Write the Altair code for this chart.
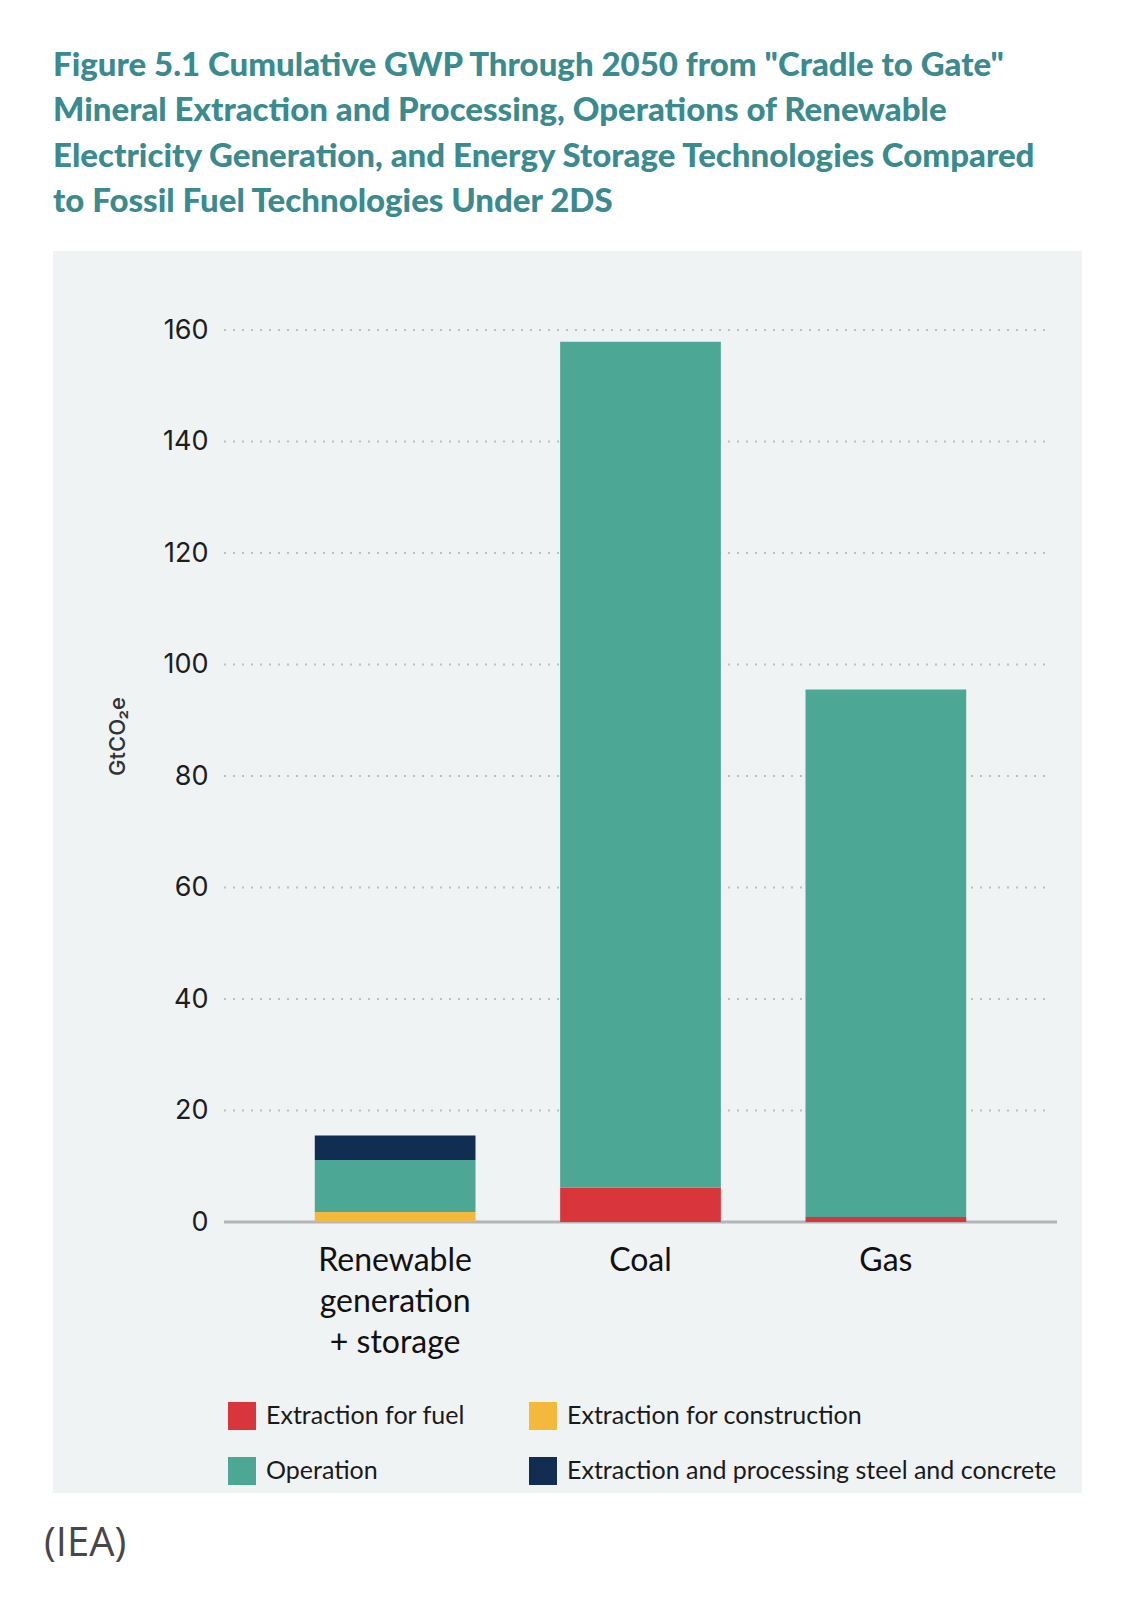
import altair as alt
import pandas as pd

# ---------------- data ----------------
categories = ["Renewable generation + storage", "Coal", "Gas"]
components = [
    "Extraction for fuel",
    "Extraction for construction",
    "Operation",
    "Extraction and processing steel and concrete",
]
colors = ["#d8363b", "#f2b93d", "#4da795", "#102d52"]
# legend fills column by column: this order gives the reference's 2x2 layout
legend_order = [0, 2, 1, 3]

fuel = [0.0, 6.2, 0.9]
construction = [1.8, 0.0, 0.0]
operation = [9.3, 151.7, 94.6]
steel = [4.4, 0.0, 0.0]

y_ticks = [0, 20, 40, 60, 80, 100, 120, 140, 160]
grid_values = [20, 40, 60, 80, 100, 120, 140, 160]

title_lines = [
    'Figure 5.1 Cumulative GWP Through 2050 from "Cradle to Gate"',
    "Mineral Extraction and Processing, Operations of Renewable",
    "Electricity Generation, and Energy Storage Technologies Compared",
    "to Fossil Fuel Technologies Under 2DS",
]
y_title = "GtCO\u2082e"
source_note = ["(IEA)"]

# ---------------- tables ----------------
rows = []
for k, (name, vals) in enumerate(zip(components, [fuel, construction, operation, steel])):
    for cat, v in zip(categories, vals):
        if v > 0:
            rows.append({"category": cat, "component": name, "value": v, "order": k})
df = pd.DataFrame(rows)
grid_df = pd.DataFrame({"value": grid_values})
base_df = pd.DataFrame({"value": [0]})
note_df = pd.DataFrame({"note": source_note})

legend_domain = [components[i] for i in legend_order]
legend_range = [colors[i] for i in legend_order]

W, H = 833, 892

# panel background
panel = alt.Chart(alt.Data(values=[{}])).mark_rect(color="#eff3f4").encode(
    x=alt.value(-171), x2=alt.value(858), y=alt.value(-79), y2=alt.value(1163)
)

grid = alt.Chart(grid_df).mark_rule(
    color="#bcc0c2", strokeWidth=2, strokeDash=[2, 7]
).encode(
    y=alt.Y("value:Q"),
    x=alt.value(0),
    x2=alt.value(825),
)

baseline = alt.Chart(base_df).mark_rule(color="#b3b6b8", strokeWidth=3).encode(
    y=alt.Y("value:Q")
)

label_expr = (
    "datum.label == 'Renewable generation + storage' ? "
    "['Renewable', 'generation', '+ storage'] : datum.label"
)

bars = alt.Chart(df).mark_bar().encode(
    x=alt.X(
        "category:N",
        sort=categories,
        scale=alt.Scale(domain=categories, paddingInner=0.345, paddingOuter=0.37),
        axis=alt.Axis(
            title=None,
            labelAngle=0,
            domain=False,
            ticks=False,
            tickSize=0,
            labelFont="Lato",
            labelFontSize=32,
            labelColor="#111111",
            labelPadding=23,
            labelLineHeight=41,
            labelExpr=label_expr,
            zindex=1,
        ),
    ),
    y=alt.Y(
        "value:Q",
        stack="zero",
        scale=alt.Scale(domain=[0, 160], nice=False),
        axis=alt.Axis(
            values=y_ticks,
            grid=False,
            domain=False,
            ticks=False,
            tickSize=0,
            labelFont="Inter",
            labelFontSize=27,
            labelColor="#1d1d1d",
            labelPadding=16,
            title=y_title,
            titleFont="Inter",
            titleFontSize=22,
            titleFontWeight=500,
            titleColor="#333333",
            titleX=-95,
            titleY=406,
            zindex=1,
        ),
    ),
    color=alt.Color(
        "component:N",
        scale=alt.Scale(domain=legend_domain, range=legend_range),
        title=None,
        legend=alt.Legend(
            orient="none",
            legendX=4,
            legendY=1072,
            columns=2,
            symbolType="square",
            symbolSize=784,
            symbolStrokeWidth=0,
            symbolOpacity=1,
            labelFont="Lato",
            labelFontSize=25,
            labelColor="#1a1a1a",
            labelOffset=10,
            columnPadding=64,
            rowPadding=27,
            padding=0,
            labelLimit=700,
        ),
    ),
    order=alt.Order("order:Q", sort="ascending"),
)

note = alt.Chart(note_df).mark_text(
    align="left", baseline="middle", font="Open Sans", fontSize=40, color="#474747"
).encode(text="note:N", x=alt.value(-180), y=alt.value(1214))

chart = (
    alt.layer(panel, grid, baseline, bars, note)
    .properties(
        width=W,
        height=H,
        autosize=alt.AutoSizeParams(type="none"),
        padding={"left": 216, "top": 322, "right": 52, "bottom": 360},
        title=alt.TitleParams(
            text=title_lines,
            anchor="start",
            frame="bounds",
            font="Lato",
            fontSize=33,
            fontWeight=900,
            color="#3a8a8e",
            lineHeight=45.5,
            offset=32,
            dx=9,
        ),
    )
    .configure_view(stroke=None)
    .configure(background="#ffffff")
)

chart.save("out.html", embed_options={"renderer": "svg", "actions": False})
